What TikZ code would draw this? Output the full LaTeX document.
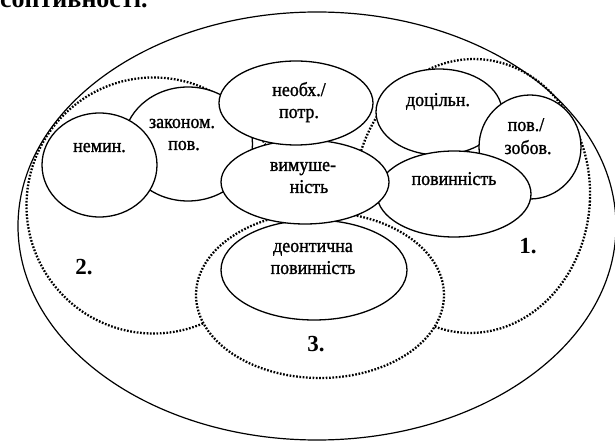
\documentclass[tikz,border=0pt]{standalone}
\usepackage{fontspec}
\setmainfont{Liberation Serif}
\newfontfamily\lblfont{Liberation Serif}[FakeStretch=0.92, BoldFont={Liberation Serif}, BoldFeatures={FakeBold=1.2, FakeStretch=0.92}]
\usetikzlibrary{shapes.geometric}
\begin{document}
\begin{tikzpicture}[x=1pt,y=-1pt,
  sol/.style={ellipse, draw, fill=white, line width=1.3pt, inner sep=0pt},
  outerell/.style={ellipse, draw, line width=1.2pt, inner sep=0pt},
  dotell/.style={ellipse, draw, line width=2.3pt, dash pattern=on 1.7pt off 1.6pt, inner sep=0pt},
  sz/.style n args={2}{minimum width=#1pt, minimum height=#2pt},
  txt/.style={font=\lblfont\bfseries\fontsize{19.5}{21}\selectfont, anchor=base, inner sep=0pt},
  num/.style={font=\fontsize{23}{25}\selectfont\bfseries, anchor=base, inner sep=0pt},
  head/.style={font=\fontsize{26}{28}\selectfont\bfseries, anchor=base west, inner sep=0pt}]
\useasboundingbox (0,0) rectangle (615,443);
\node[head] (head) at (0,7.5) {соптивності.};
% outer ellipse and dotted groups
\node[outerell, sz={598}{428}] (outer) at (317,226) {};
\node[dotell, sz={236}{274}, rotate=-3] (g1) at (472,196) {};
\node[dotell, sz={254}{256}] (g2) at (153.5,205.5) {};
\node[dotell, fill=white, sz={248}{166}] (g3) at (320,295) {};
% concept ellipses
\node[sol, sz={129}{114}] (zakon) at (188,144) {};
\node[sol, sz={115}{104}] (nemin) at (99.5,165) {};
\node[sol, sz={126}{86}] (dotsil) at (439,112) {};
\node[sol, sz={102}{104}] (povzob) at (530,147) {};
\node[sol, sz={154}{86}] (povyn) at (454,194) {};
\node[sol, sz={186}{100}] (deont) at (314,270) {};
\node[sol, sz={168}{84}] (vymush) at (305,182) {};
\node[sol, sz={154}{84}] (neobh) at (296,103) {};
% labels
\node[txt] (tnemin) at (99.5,152) {немин.};
\node[txt] (tzakon1) at (182,128) {законом.};
\node[txt] (tzakon2) at (184,150) {пов.};
\node[txt] (tneobh1) at (299,96) {необх./};
\node[txt] (tneobh2) at (299,118) {потр.};
\node[txt] (tvym1) at (303,171) {вимуше-};
\node[txt] (tvym2) at (309,193) {ність};
\node[txt] (tdots) at (438,106) {доцільн.};
\node[txt] (tpovz1) at (526,131) {пов./};
\node[txt] (tpovz2) at (528,154) {зобов.};
\node[txt] (tpovyn) at (454,185) {повинність};
\node[txt] (tdeon1) at (313,252) {деонтична};
\node[txt] (tdeon2) at (313,274) {повинність};
\node[num] (n1) at (528,254) {1.};
\node[num] (n2) at (84,275) {2.};
\node[num] (n3) at (316,351) {3.};
\end{tikzpicture}
\end{document}
